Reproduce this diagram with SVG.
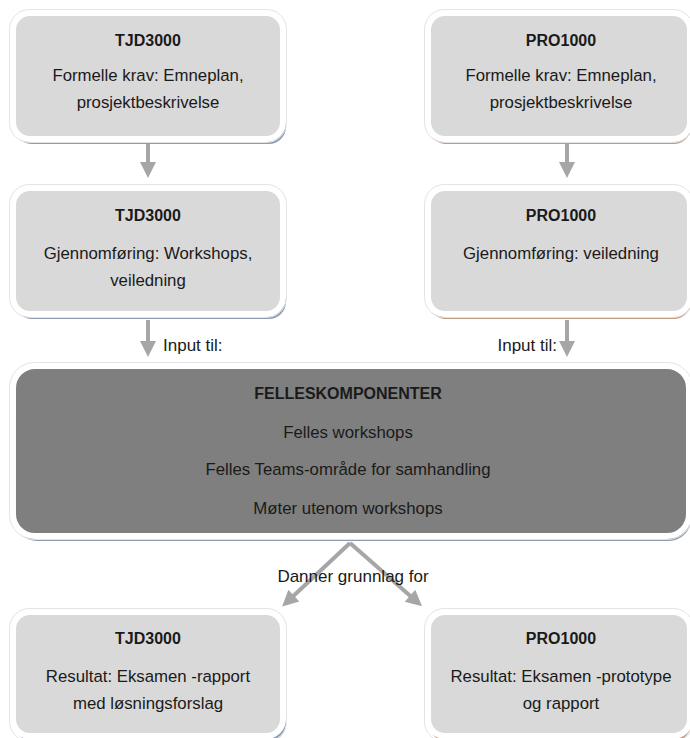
<svg xmlns="http://www.w3.org/2000/svg" width="690" height="738" viewBox="0 0 690 738">
<style>
.box{fill:#d9d9d9;stroke:#ffffff;stroke-width:6}
.edge{fill:none;stroke:#e3e3e3;stroke-width:1}
.shL{fill:#8e9db2}
.shR{fill:#c29a82}
.t{font-family:"Liberation Sans",Arial,sans-serif;font-size:16.8px;fill:#1a1a1a;text-anchor:middle}
.b{font-weight:bold;font-size:16px}
.big{fill:#7f7f7f;stroke:#ffffff;stroke-width:6}
.con{stroke:#a6a6a6;stroke-width:4;fill:none}
.lab{font-family:"Liberation Sans",Arial,sans-serif;font-size:17px;fill:#1a1a1a}
</style>
<defs>
<marker id="ah" viewBox="0 0 10 10" refX="5" refY="5" markerWidth="4.5" markerHeight="4" orient="auto" markerUnits="strokeWidth">
<path d="M0,0 L10,5 L0,10 z" fill="#a6a6a6"/>
</marker>
</defs>
<rect width="690" height="738" fill="#ffffff"/>

<g id="connectors">
<line class="con" x1="148" y1="143" x2="148" y2="170" marker-end="url(#ah)"/>
<line class="con" x1="567" y1="143" x2="567" y2="170" marker-end="url(#ah)"/>
<line class="con" x1="148" y1="320" x2="148" y2="349" marker-end="url(#ah)"/>
<line class="con" x1="567" y1="320" x2="567" y2="349" marker-end="url(#ah)"/>
<line class="con" x1="350" y1="543" x2="288" y2="601" marker-end="url(#ah)"/>
<line class="con" x1="350" y1="543" x2="416" y2="601" marker-end="url(#ah)"/>
<text class="lab" x="163" y="351">Input til:</text>
<text class="lab" x="557" y="351" text-anchor="end">Input til:</text>
<text class="lab" x="353" y="582" text-anchor="middle">Danner grunnlag for</text>
</g>

<g id="tjd-krav">
<rect class="shL" x="15" y="18" width="271" height="126" rx="17"/>
<rect class="box" x="13" y="13" width="270" height="126" rx="17"/>
<rect class="edge" x="9.5" y="9.5" width="277" height="133" rx="20"/>
<text class="t b" x="148" y="46">TJD3000</text>
<text class="t" x="148" y="81">Formelle krav: Emneplan,</text>
<text class="t" x="148" y="108">prosjektbeskrivelse</text>
</g>

<g id="pro-krav">
<rect class="shR" x="429" y="18" width="262" height="126" rx="17"/>
<rect class="box" x="428" y="13" width="262" height="126" rx="17"/>
<rect class="edge" x="424.5" y="9.5" width="269" height="133" rx="20"/>
<text class="t b" x="561" y="46">PRO1000</text>
<text class="t" x="561" y="81">Formelle krav: Emneplan,</text>
<text class="t" x="561" y="108">prosjektbeskrivelse</text>
</g>

<g id="tjd-gjen">
<rect class="shL" x="15" y="193" width="271" height="126" rx="17"/>
<rect class="box" x="13" y="188" width="270" height="126" rx="17"/>
<rect class="edge" x="9.5" y="184.5" width="277" height="133" rx="20"/>
<text class="t b" x="148" y="221">TJD3000</text>
<text class="t" x="148" y="259">Gjennomføring: Workshops,</text>
<text class="t" x="148" y="286">veiledning</text>
</g>

<g id="pro-gjen">
<rect class="shR" x="429" y="193" width="262" height="126" rx="17"/>
<rect class="box" x="428" y="188" width="262" height="126" rx="17"/>
<rect class="edge" x="424.5" y="184.5" width="269" height="133" rx="20"/>
<text class="t b" x="561" y="221">PRO1000</text>
<text class="t" x="561" y="259">Gjennomføring: veiledning</text>
</g>

<g id="felles">
<rect class="shL" x="15" y="371" width="676" height="170" rx="22"/>
<rect class="big" x="13" y="366" width="676" height="170" rx="22"/>
<rect class="edge" x="9.5" y="362.5" width="683" height="177" rx="25"/>
<text class="t b" x="348" y="399">FELLESKOMPONENTER</text>
<text class="t" x="348" y="438">Felles workshops</text>
<text class="t" x="348" y="475">Felles Teams-område for samhandling</text>
<text class="t" x="348" y="514">Møter utenom workshops</text>
</g>

<g id="tjd-res">
<rect class="shL" x="15" y="617" width="271" height="124" rx="17"/>
<rect class="box" x="13" y="612" width="270" height="124" rx="17"/>
<rect class="edge" x="9.5" y="608.5" width="277" height="133" rx="20"/>
<text class="t b" x="148" y="644">TJD3000</text>
<text class="t" x="148" y="682">Resultat: Eksamen -rapport</text>
<text class="t" x="148" y="709">med løsningsforslag</text>
</g>

<g id="pro-res">
<rect class="shR" x="429" y="617" width="262" height="124" rx="17"/>
<rect class="box" x="428" y="612" width="262" height="124" rx="17"/>
<rect class="edge" x="424.5" y="608.5" width="269" height="133" rx="20"/>
<text class="t b" x="561" y="644">PRO1000</text>
<text class="t" x="561" y="682">Resultat: Eksamen -prototype</text>
<text class="t" x="561" y="709">og rapport</text>
</g>
</svg>
